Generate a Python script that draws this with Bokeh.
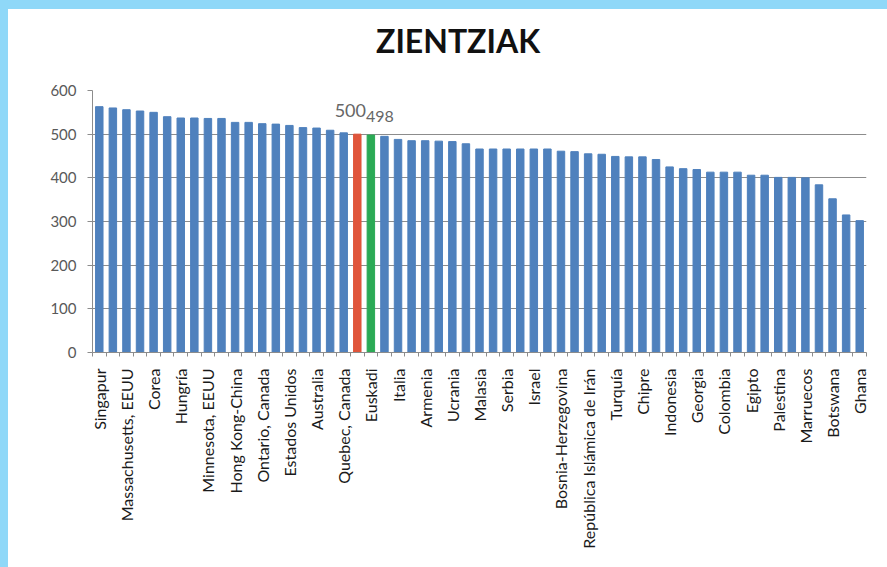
import math
from bokeh.plotting import figure
from bokeh.models import ColumnDataSource, FixedTicker, Div
from bokeh.layouts import column
from bokeh.core.properties import value
from bokeh.embed import file_html
from bokeh.resources import INLINE

# Category labels shown on the axis (every second bar is labelled)
tick_labels = [
    "Singapur", "Massachusetts, EEUU", "Corea", "Hungría", "Minnesota, EEUU",
    "Hong Kong-China", "Ontario, Canada", "Estados Unidos", "Australia",
    "Quebec, Canada", "Euskadi", "Italia", "Armenia", "Ucrania", "Malasia",
    "Serbia", "Israel", "Bosnia-Herzegovina", "República Islámica de Irán",
    "Turquía", "Chipre", "Indonesia", "Georgia", "Colombia", "Egipto",
    "Palestina", "Marruecos", "Botswana", "Ghana",
]

# Scores of all bars, left to right
values = [
    563, 560, 556, 553, 550, 540, 537, 537, 536, 536,
    527, 527, 524, 523, 520, 515, 514, 509, 503, 500,
    498, 495, 488, 485, 485, 484, 483, 478, 466, 466,
    466, 466, 466, 466, 461, 460, 455, 454, 449, 448,
    448, 442, 425, 421, 419, 413, 413, 413, 406, 406,
    401, 401, 400, 384, 352, 315, 302,
]

highlight_index = [19, 20]
highlight_color = ["#E0553B", "#2BAA55"]
highlight_text = ["500", "498"]

TITLE = "ZIENTZIAK"
BLUE = "#4F81BD"
FRAME_BLUE = "#8FD8F8"
n = len(values)
xs = list(range(n))
colors = [BLUE] * n
for i, c in zip(highlight_index, highlight_color):
    colors[i] = c

src = ColumnDataSource(dict(x=xs, top=values, color=colors))

title_div = Div(
    text=('<div style="margin:12px 0 0 363px; font-family:Lato; font-weight:bold; '
          'font-size:32px; line-height:30px; color:#111111; white-space:nowrap;">'
          + TITLE + '</div>'),
    width=879, height=60)

p = figure(width=879, height=488, x_range=(-0.5, n - 0.5), y_range=(0, 600),
           output_backend="svg", toolbar_location=None,
           min_border_left=84, min_border_right=21, min_border_top=11,
           min_border_bottom=215)

p.vbar(x="x", top="top", width=0.55, color="color", source=src)

# data labels
p.text(x=[highlight_index[0]], y=[values[highlight_index[0]]], text=[highlight_text[0]],
       x_offset=-7, y_offset=-17, text_align="center", text_baseline="bottom",
       text_font=value("Lato"), text_font_size="18px", text_color="#666666")
p.text(x=[highlight_index[1]], y=[values[highlight_index[1]]], text=[highlight_text[1]],
       x_offset=9, y_offset=-13, text_align="center", text_baseline="bottom",
       text_font=value("Lato"), text_font_size="16px", text_color="#666666")

p.outline_line_color = None
p.background_fill_color = "white"
p.border_fill_color = "white"

p.xgrid.visible = False
p.ygrid.grid_line_color = "#8C8C8C"
p.ygrid.grid_line_width = 1

# y axis
p.yaxis.ticker = FixedTicker(ticks=[0, 100, 200, 300, 400, 500, 600])
p.yaxis.axis_line_color = "#8C8C8C"
p.yaxis.major_tick_line_color = "#8C8C8C"
p.yaxis.major_tick_out = 5
p.yaxis.major_tick_in = 0
p.yaxis.minor_tick_line_color = None
p.yaxis.major_label_text_font = "Lato"
p.yaxis.major_label_text_font_size = "15px"
p.yaxis.major_label_text_color = "#595959"
p.yaxis.major_label_standoff = 11

# x axis
label_ticks = list(range(0, n, 2))
p.xaxis.ticker = FixedTicker(ticks=label_ticks,
                             minor_ticks=[i - 0.5 for i in range(n + 1)])
p.xaxis.major_label_overrides = {t: lab for t, lab in zip(label_ticks, tick_labels)}
p.xaxis.major_label_orientation = math.pi / 2
p.xaxis.axis_line_color = "#8C8C8C"
p.xaxis.major_tick_line_color = None
p.xaxis.minor_tick_line_color = "#8C8C8C"
p.xaxis.minor_tick_out = 4
p.xaxis.minor_tick_in = 0
p.xaxis.major_label_text_font = "Lato"
p.xaxis.major_label_text_font_size = "16px"
p.xaxis.major_label_text_color = "#1A1A1A"
p.xaxis.major_label_standoff = 10

layout = column(title_div, p, spacing=0)
layout.styles = {"border-top": "9px solid " + FRAME_BLUE,
                 "border-left": "8px solid " + FRAME_BLUE,
                 "background-color": "white"}

open("out.html", "w").write(file_html(layout, INLINE))
